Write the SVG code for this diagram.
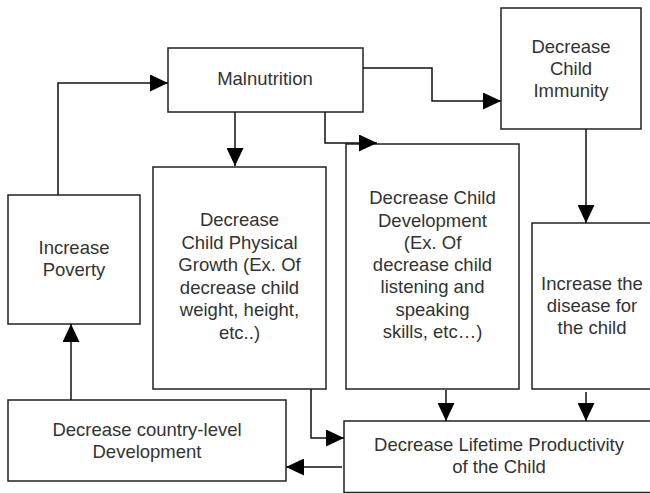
<svg xmlns="http://www.w3.org/2000/svg" width="650" height="493" viewBox="0 0 650 493">
<style>
.box{fill:#fff;stroke:#222;stroke-width:1.5}
.t{font-family:"Liberation Sans",Arial,sans-serif;font-size:18.5px;fill:#333;text-anchor:middle}
.c{fill:none;stroke:#111;stroke-width:1.5}
</style>
<defs>
<marker id="ah" markerUnits="userSpaceOnUse" markerWidth="18" markerHeight="17" refX="18" refY="8.5" orient="auto">
<path d="M0,0 L18,8.5 L0,17 z" fill="#000"/>
</marker>
</defs>
<rect width="650" height="493" fill="#fff"/>
<g id="malnutrition"><rect class="box" x="168" y="48" width="195" height="64"/><text class="t" x="265" y="85">Malnutrition</text></g>
<g id="immunity"><rect class="box" x="501" y="8" width="140" height="121"/><text class="t" x="571" y="53">Decrease</text><text class="t" x="571" y="75">Child</text><text class="t" x="571" y="97">Immunity</text></g>
<g id="physical"><rect class="box" x="153" y="167" width="173" height="222"/><text class="t" x="239.5" y="226">Decrease</text><text class="t" x="239.5" y="249">Child Physical</text><text class="t" x="239.5" y="271">Growth (Ex. Of</text><text class="t" x="239.5" y="294">decrease child</text><text class="t" x="239.5" y="316">weight, height,</text><text class="t" x="239.5" y="339">etc..)</text></g>
<g id="development"><rect class="box" x="346" y="144" width="173" height="245"/><text class="t" x="432.5" y="204">Decrease Child</text><text class="t" x="432.5" y="227">Development</text><text class="t" x="432.5" y="249">(Ex. Of</text><text class="t" x="432.5" y="271">decrease child</text><text class="t" x="432.5" y="293">listening and</text><text class="t" x="432.5" y="316">speaking</text><text class="t" x="432.5" y="338">skills, etc…)</text></g>
<g id="disease"><rect class="box" x="532" y="223" width="130" height="166"/><text class="t" x="592" y="290">Increase the</text><text class="t" x="592" y="312">disease for</text><text class="t" x="592" y="334">the child</text></g>
<g id="poverty"><rect class="box" x="8" y="195" width="132" height="129"/><text class="t" x="74" y="254">Increase</text><text class="t" x="74" y="276">Poverty</text></g>
<g id="country"><rect class="box" x="8" y="400" width="278" height="81"/><text class="t" x="147" y="436">Decrease country-level</text><text class="t" x="147" y="458">Development</text></g>
<g id="lifetime"><rect class="box" x="344" y="421" width="320" height="71.5" style="stroke:#222"/><text class="t" x="499" y="451">Decrease Lifetime Productivity</text><text class="t" x="499" y="473">of the Child</text></g>
<g id="connectors">
<path class="c" d="M58,195 V83 H168" marker-end="url(#ah)"/>
<path class="c" d="M235,112 V166" marker-end="url(#ah)"/>
<path class="c" d="M325,112 V143 H377" marker-end="url(#ah)"/>
<path class="c" d="M363,68 H432 V101 H501" marker-end="url(#ah)"/>
<path class="c" d="M586,129 V223" marker-end="url(#ah)"/>
<path class="c" d="M311,389 V438 H344" marker-end="url(#ah)"/>
<path class="c" d="M446,390 V421" marker-end="url(#ah)"/>
<path class="c" d="M586,392 V421" marker-end="url(#ah)"/>
<path class="c" d="M342,467 H286" marker-end="url(#ah)"/>
<path class="c" d="M71,400 V324" marker-end="url(#ah)"/>
</g>
</svg>
